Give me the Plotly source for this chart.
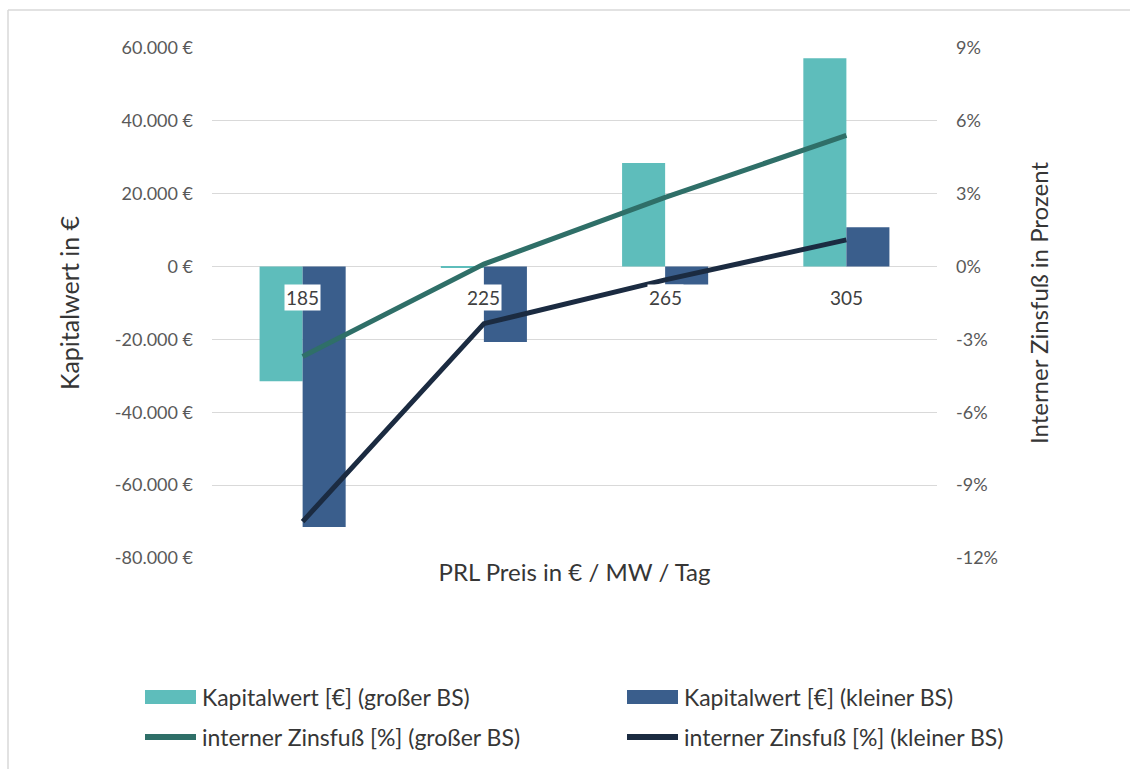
import plotly.graph_objects as go

# PRL price levels (€ / MW / day)
price_labels = ["185", "225", "265", "305"]

# Net present value in € for both storage sizes
npv_large = [-31500, -300, 28400, 57200]
npv_small = [-71500, -20700, -4900, 10800]

# Internal rate of return in % for both storage sizes
irr_large = [-3.7, 0.1, 2.85, 5.4]
irr_small = [-10.5, -2.35, -0.55, 1.1]

names = [
    "Kapitalwert [€] (großer BS)",
    "Kapitalwert [€] (kleiner BS)",
    "interner Zinsfuß [%] (großer BS)",
    "interner Zinsfuß [%] (kleiner BS)",
]

left_ticks = [60000, 40000, 20000, 0, -20000, -40000, -60000, -80000]
left_ticktext = ["60.000 €", "40.000 €", "20.000 €", "0 €", "-20.000 €",
                 "-40.000 €", "-60.000 €", "-80.000 €"]
right_ticks = [9, 6, 3, 0, -3, -6, -9, -12]
right_ticktext = ["9%", "6%", "3%", "0%", "-3%", "-6%", "-9%", "-12%"]

C_TEAL = "#5ebdbb"
C_BLUE = "#3a5e8c"
C_TEAL_LINE = "#2f6f68"
C_DARK_LINE = "#1b2b41"
FONT = "Lato"
TICK_COLOR = "#595959"
TEXT_COLOR = "#363636"

fig = go.Figure()
fig.add_trace(go.Bar(x=price_labels, y=npv_large, name=names[0],
                     marker_color=C_TEAL, marker_line_width=0))
fig.add_trace(go.Bar(x=price_labels, y=npv_small, name=names[1],
                     marker_color=C_BLUE, marker_line_width=0))
fig.add_trace(go.Scatter(x=price_labels, y=irr_large, name=names[2], mode="lines",
                         line=dict(color=C_TEAL_LINE, width=5), yaxis="y2"))
fig.add_trace(go.Scatter(x=price_labels, y=irr_small, name=names[3], mode="lines",
                         line=dict(color=C_DARK_LINE, width=5), yaxis="y2"))

# plot area in pixels
L, R, T, B = 212, 937, 48, 558
W, H = 1130, 769


def px_x(p):
    return (p - L) / (R - L)


def px_y(p):
    return (B - p) / (B - T)


# category labels sit just below the zero line, in a white box
for idx, lab in enumerate(price_labels):
    fig.add_annotation(x=idx, y=0, xref="x", yref="y", yshift=-31, text=lab,
                       showarrow=False, bgcolor="white", borderpad=1,
                       font=dict(family=FONT, size=19, color="#404040"))

# outer chart border (top and left edges)
fig.add_shape(type="line", xref="paper", yref="paper",
              x0=px_x(8), x1=px_x(1130), y0=px_y(10), y1=px_y(10),
              line=dict(color="#d9d9d9", width=1.5))
fig.add_shape(type="line", xref="paper", yref="paper",
              x0=px_x(8), x1=px_x(8), y0=px_y(10), y1=px_y(769),
              line=dict(color="#d9d9d9", width=1.5))

# legend drawn as two columns, two rows
legend_cols = [145, 627]
legend_rows = [697, 737]
legend_kinds = [("bar", C_TEAL), ("bar", C_BLUE),
                ("line", C_TEAL_LINE), ("line", C_DARK_LINE)]
for i, (name, (kind, col)) in enumerate(zip(names, legend_kinds)):
    cx = legend_cols[i % 2]
    cy = legend_rows[i // 2]
    if kind == "bar":
        fig.add_shape(type="rect", xref="paper", yref="paper",
                      x0=px_x(cx), x1=px_x(cx + 51),
                      y0=px_y(cy - 7), y1=px_y(cy + 7),
                      fillcolor=col, line=dict(width=0))
    else:
        fig.add_shape(type="line", xref="paper", yref="paper",
                      x0=px_x(cx), x1=px_x(cx + 51),
                      y0=px_y(cy), y1=px_y(cy),
                      line=dict(color=col, width=6))
    fig.add_annotation(x=px_x(cx + 55), y=px_y(cy), xref="paper", yref="paper",
                       xanchor="left", yanchor="middle", text=name,
                       showarrow=False,
                       font=dict(family=FONT, size=23, color=TEXT_COLOR))

fig.update_layout(
    width=W, height=H,
    margin=dict(l=L, r=W - R, t=T, b=H - B, autoexpand=False),
    paper_bgcolor="white", plot_bgcolor="white",
    barmode="group", bargap=0.525, bargroupgap=0,
    showlegend=False,
    font=dict(family=FONT, size=18, color=TICK_COLOR),
    xaxis=dict(type="category", range=[-0.5, 3.5], showticklabels=False,
               showgrid=False, zeroline=False, showline=False, ticks="",
               title=dict(text="PRL Preis in € / MW / Tag", standoff=6,
                          font=dict(family=FONT, size=24, color=TEXT_COLOR))),
    yaxis=dict(range=[-80000, 60000], tickvals=left_ticks, ticktext=left_ticktext,
               showgrid=True, gridcolor="#d9d9d9", gridwidth=1,
               zeroline=False, showline=False, ticks="", ticklabelstandoff=18,
               tickfont=dict(family=FONT, size=18, color=TICK_COLOR),
               title=dict(text="Kapitalwert in €", standoff=28,
                          font=dict(family=FONT, size=25, color=TEXT_COLOR))),
    yaxis2=dict(range=[-12, 9], tickvals=right_ticks, ticktext=right_ticktext,
                overlaying="y", side="right", showgrid=False, zeroline=False,
                showline=False, ticks="", ticklabelstandoff=18,
                tickfont=dict(family=FONT, size=18, color=TICK_COLOR),
                title=dict(text="Interner Zinsfuß in Prozent", standoff=34,
                           font=dict(family=FONT, size=24, color=TEXT_COLOR))),
)

fig.write_html("out.html")
